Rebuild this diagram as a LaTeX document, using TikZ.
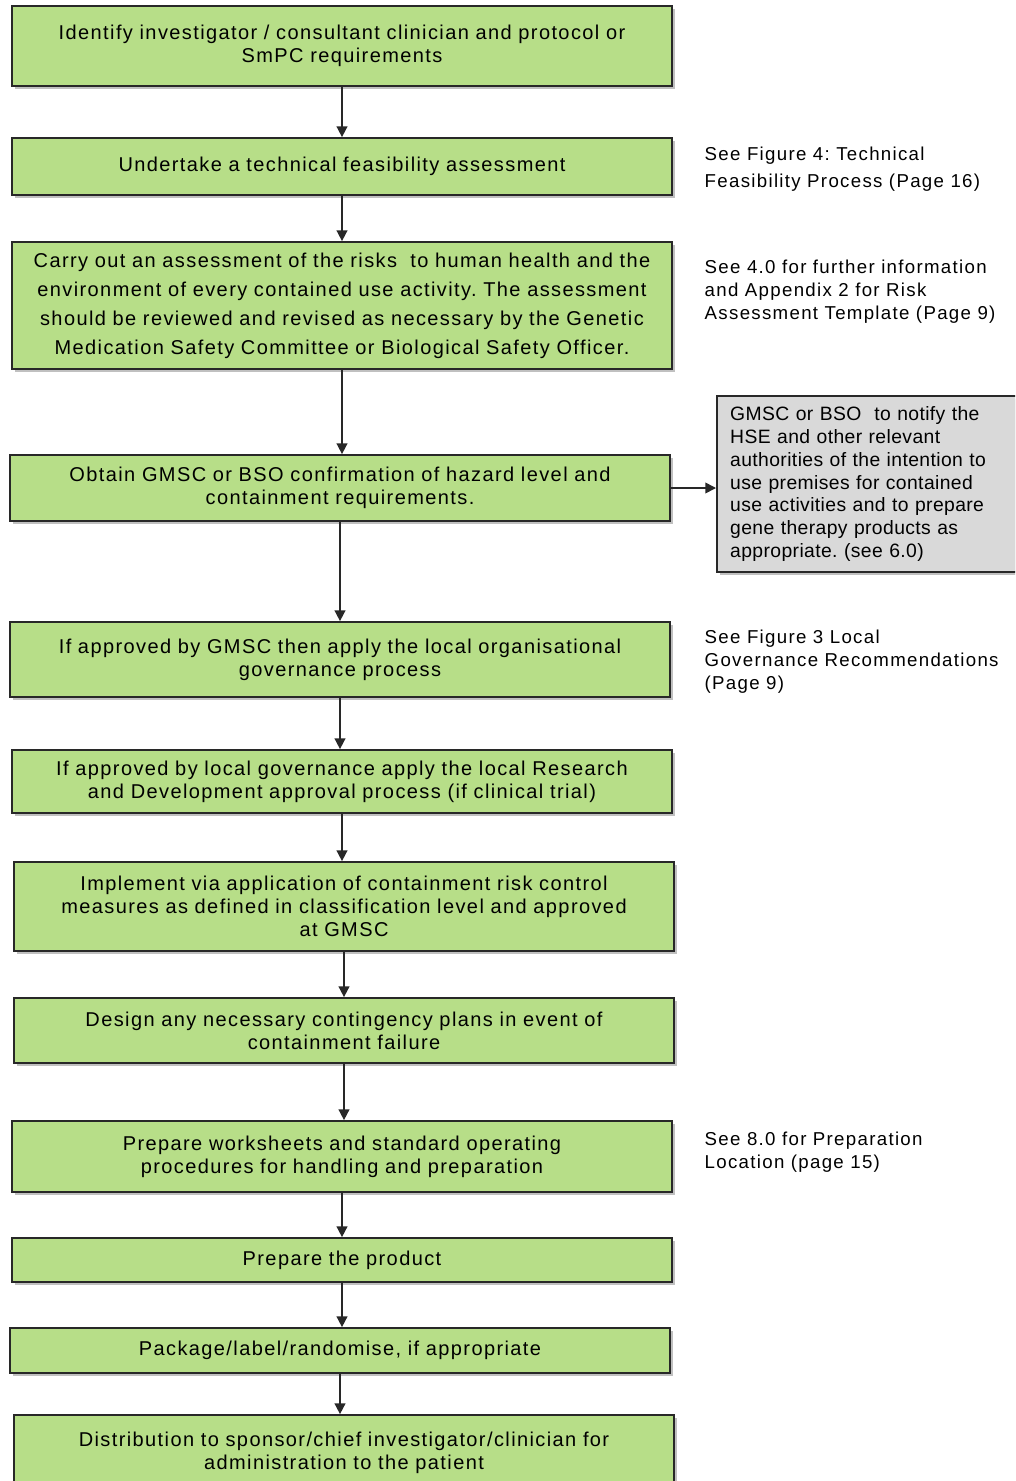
\documentclass[tikz,border=0pt]{standalone}
\usepackage{fontspec}
\setmainfont{Liberation Sans}
\newfontfamily\boxfont[LetterSpace=7]{Liberation Sans}
\newfontfamily\greyfont[LetterSpace=2]{Liberation Sans}
\usetikzlibrary{arrows.meta, positioning, shadows}
\definecolor{BoxGreen}{RGB}{183,222,136}
\definecolor{BoxGrey}{RGB}{217,217,217}
\definecolor{EdgeDark}{RGB}{40,40,40}
\frenchspacing

\begin{document}
\begin{tikzpicture}[
    x=0.75pt, y=-0.75pt,
    box/.style={
        draw=EdgeDark,
        line width=1.3pt,
        fill=#1,
        minimum width=495pt,
        text width=485pt,
        align=center,
        font=\boxfont\fontsize{15}{17.25}\selectfont,
        drop shadow={shadow xshift=2.5pt, shadow yshift=-2.5pt, opacity=0.35, fill=black!70}
    },
    note/.style={align=left, anchor=west, font=\boxfont\fontsize{14}{17.25}\selectfont},
    arr/.style={-{Triangle[length=8pt, width=8pt]}, line width=1.2pt, color=EdgeDark}
]
\clip (0,0) rectangle (1015,1481);
\fill[white] (0,0) rectangle (1015,1481);

% MAIN COLUMN
\node[box=BoxGreen, minimum height=60pt] (ident) at (342,46)
{Identify investigator / consultant clinician and protocol or\\SmPC requirements};

\node[box=BoxGreen, minimum height=42.75pt] (feas) at (342,166.5)
{Undertake a technical feasibility assessment};

\node[box=BoxGreen, minimum height=95.25pt,
font=\boxfont\fontsize{15}{21.75}\selectfont] (risk) at (342,305.5)
{Carry out an assessment of the risks\ \ to human health and the\\
environment of every contained use activity. The assessment\\
should be reviewed and revised as necessary by the Genetic\\
Medication Safety Committee or Biological Safety Officer.};

\node[box=BoxGreen, minimum height=49.5pt] (conf) at (340,488)
{Obtain GMSC or BSO confirmation of hazard level and\\containment requirements.};

\node[box=BoxGreen, minimum height=56.25pt] (gov) at (340,659.5)
{If approved by GMSC then apply the local organisational\\governance process};

\node[box=BoxGreen, minimum height=47.25pt] (rnd) at (342,781.5)
{If approved by local governance apply the local Research\\and Development approval process (if clinical trial)};

\node[box=BoxGreen, minimum height=66.75pt] (impl) at (344,906.5)
{Implement via application of containment risk control\\measures as defined in classification level and approved\\at GMSC};

\node[box=BoxGreen, minimum height=48.75pt] (cont) at (344,1030.5)
{Design any necessary contingency plans in event of\\containment failure};

\node[box=BoxGreen, minimum height=53.25pt] (sop) at (342,1156.5)
{Prepare worksheets and standard operating\\procedures for handling and preparation};

\node[box=BoxGreen, minimum height=33pt] (prep) at (342,1260)
{Prepare the product};

\node[box=BoxGreen, minimum height=33.75pt] (pack) at (340,1350.5)
{Package/label/randomise, if appropriate};

\node[box=BoxGreen, minimum height=56.25pt] (dist) at (344,1452.5)
{Distribution to sponsor/chief investigator/clinician for\\administration to the patient};

% ARROWS
\draw[arr] (ident) -- (ident |- feas.north);
\draw[arr] (feas) -- (feas |- risk.north);
\draw[arr] (risk) -- (risk |- conf.north);
\draw[arr] (conf) -- (conf |- gov.north);
\draw[arr] (gov) -- (gov |- rnd.north);
\draw[arr] (rnd) -- (rnd |- impl.north);
\draw[arr] (impl) -- (impl |- cont.north);
\draw[arr] (cont) -- (cont |- sop.north);
\draw[arr] (sop) -- (sop |- prep.north);
\draw[arr] (prep) -- (prep |- pack.north);
\draw[arr] (pack) -- (pack |- dist.north);

% GREY BOX
\node[box=BoxGrey, anchor=west, minimum width=232pt, text width=215pt,
minimum height=132pt, align=left, inner xsep=10pt,
font=\greyfont\fontsize{14.5}{17.1}\selectfont] (notify) at (716,484)
{GMSC or BSO\ \ to notify the\\
HSE and other relevant\\
authorities of the intention to\\
use premises for contained\\
use activities and to prepare\\
gene therapy products as\\
appropriate. (see 6.0)};

\draw[arr] (conf.east) -- (notify.west |- conf.east);

% SIDE NOTES
\node[note, font=\boxfont\fontsize{14}{20.25}\selectfont] (nfeas) at (700,169.5)
{See Figure 4: Technical\\Feasibility Process (Page 16)};

\node[note] (nrisk) at (700,292)
{See 4.0 for further information\\and Appendix 2 for Risk\\Assessment Template (Page 9)};

\node[note] (ngov) at (700,662)
{See Figure 3 Local\\Governance Recommendations\\(Page 9)};

\node[note] (nsop) at (700,1152.5)
{See 8.0 for Preparation\\Location (page 15)};

\end{tikzpicture}
\end{document}
